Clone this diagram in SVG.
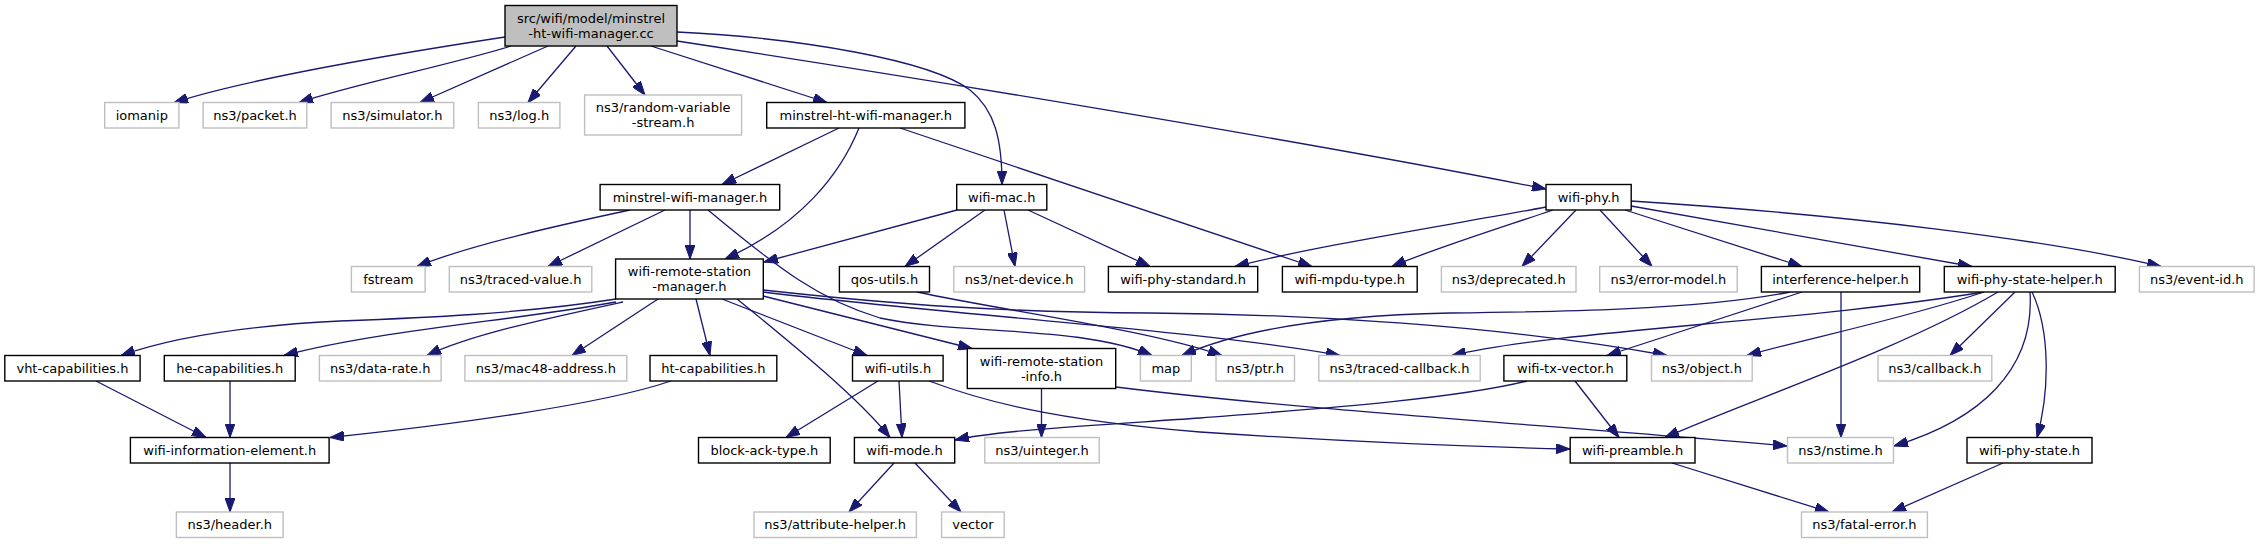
<svg xmlns="http://www.w3.org/2000/svg" width="2259" height="544" viewBox="0 0 2259 544">
<defs>
<marker id="ah" viewBox="0 0 14 10" refX="14" refY="5" markerWidth="14" markerHeight="10" markerUnits="userSpaceOnUse" orient="auto">
<path d="M0,0 L14,5 L0,10 z" fill="#191970" stroke="#191970" stroke-width="1"/>
</marker>
<style>
rect{stroke-width:1.4}
.n{fill:#fff;stroke:#000}
.x{fill:#fff;stroke:#bfbfbf}
.r{fill:#bfbfbf;stroke:#000}
text{font-family:"DejaVu Sans","Liberation Sans",sans-serif;font-size:13px;text-anchor:middle;fill:#000}
#edges path{fill:none;stroke:#191970;stroke-width:1.3;marker-end:url(#ah)}
</style>
</defs>
<rect width="2259" height="544" fill="#fff"/>
<g id="edges">
<path d="M505,37 C420,50 260,75 174,102.5"/>
<path d="M511,46 C450,65 350,85 299,102.5"/>
<path d="M548,46 L420,102.5"/>
<path d="M576,46 L528,102.5"/>
<path d="M607,46 L645,95"/>
<path d="M651,46 L827,102.5"/>
<path d="M677,32 C800,38 930,60 970,90 C995,110 1002,140 1002,184.5"/>
<path d="M677,41 C900,75 1300,140 1546,189"/>
<path d="M839,128 L722,184.5"/>
<path d="M859,128 C840,175 800,225 725,259"/>
<path d="M900,128 L1312,266.5"/>
<path d="M630,210 C560,225 470,245 417,266.5"/>
<path d="M665,210 L548,266.5"/>
<path d="M690,210 L690,259"/>
<path d="M708,210 C780,270 820,300 880,318 C960,335 1080,325 1152,355.5"/>
<path d="M957,210 L764,262"/>
<path d="M985,210 L905,266.5"/>
<path d="M1004,210 L1015,266.5"/>
<path d="M1028,210 L1150,266.5"/>
<path d="M1546,207 C1450,225 1320,245 1235,266.5"/>
<path d="M1553,210 C1500,228 1430,250 1392,266.5"/>
<path d="M1576,210 L1522,266.5"/>
<path d="M1600,210 L1652,266.5"/>
<path d="M1625,210 L1802,266.5"/>
<path d="M1631,206 L1972,266.5"/>
<path d="M1631,201 C1850,215 2050,240 2161,266.5"/>
<path d="M616,299 C520,314 420,318 340,321 C240,326 170,338 121,355.5"/>
<path d="M616,302 C520,320 380,330 284,355.5"/>
<path d="M623,302 C540,320 470,335 427,355.5"/>
<path d="M658,299 L572,355.5"/>
<path d="M696,299 L710,355.5"/>
<path d="M722,299 L867,355.5"/>
<path d="M737,299 C800,350 860,400 890,437.5"/>
<path d="M763,296 L972,348.5"/>
<path d="M763,292 C950,315 1200,330 1340,355.5"/>
<path d="M763,290 C900,305 1000,312 1150,313 C1300,314 1500,325 1667,355.5"/>
<path d="M917,292 C1000,310 1150,330 1222,355.5"/>
<path d="M1041.5,388.5 L1041.5,437.5"/>
<path d="M1116,387 C1300,410 1550,425 1787,446"/>
<path d="M878,381 L786,437.5"/>
<path d="M899,381 L902,437.5"/>
<path d="M929,381 C980,400 1050,420 1200,432 C1350,442 1480,447 1570,449"/>
<path d="M1527,381 C1450,400 1300,410 1200,418 C1100,425 1000,430 955,440"/>
<path d="M1575,381 L1619,437.5"/>
<path d="M1790,292 C1700,310 1550,312 1450,313 C1350,315 1250,325 1182,355.5"/>
<path d="M1802,292 L1607,355.5"/>
<path d="M1841,292 L1841,437.5"/>
<path d="M1984,292 C1800,322 1560,330 1452,355.5"/>
<path d="M1984,292 C1900,320 1800,340 1747,355.5"/>
<path d="M1998,292 C1900,350 1750,400 1665,437.5"/>
<path d="M2015,292 L1950,355.5"/>
<path d="M2030,292 C2035,370 1980,420 1894,446"/>
<path d="M2032,292 C2050,330 2050,390 2037,437.5"/>
<path d="M1672,463 L1829,512"/>
<path d="M2003,463 L1892,512"/>
<path d="M894,463 L849,512"/>
<path d="M915,463 L961,512"/>
<path d="M96,381 L206,437.5"/>
<path d="M230,381 L230,437.5"/>
<path d="M671,381 C600,405 450,425 330,437.5"/>
<path d="M230,463 L230,512"/>
</g>
<g id="root"><rect class="r" x="505" y="5.5" width="172" height="40.5"/><text x="591" y="22.8">src/wifi/model/minstrel</text><text x="591" y="37.8">-ht-wifi-manager.cc</text></g>
<g id="iomanip"><rect class="x" x="104.7" y="102.5" width="74.2" height="25.5"/><text x="141.8" y="119.8">iomanip</text></g>
<g id="packet"><rect class="x" x="203.1" y="102.5" width="103.7" height="25.5"/><text x="255" y="119.8">ns3/packet.h</text></g>
<g id="simulator"><rect class="x" x="331.1" y="102.5" width="122.6" height="25.5"/><text x="392.4" y="119.8">ns3/simulator.h</text></g>
<g id="log"><rect class="x" x="478.4" y="102.5" width="81.5" height="25.5"/><text x="519.2" y="119.8">ns3/log.h</text></g>
<g id="random"><rect class="x" x="584.6" y="95" width="157" height="40"/><text x="663.1" y="112.3">ns3/random-variable</text><text x="663.1" y="127.3">-stream.h</text></g>
<g id="mhtwm"><rect class="n" x="766.7" y="102.5" width="198.2" height="25.5"/><text x="865.8" y="119.8">minstrel-ht-wifi-manager.h</text></g>
<g id="mwm"><rect class="n" x="600.1" y="184.5" width="179.6" height="25.5"/><text x="689.9" y="201.8">minstrel-wifi-manager.h</text></g>
<g id="wifimac"><rect class="n" x="956.7" y="184.5" width="90.1" height="25.5"/><text x="1001.75" y="201.8">wifi-mac.h</text></g>
<g id="wifiphy"><rect class="n" x="1546" y="184.5" width="85.2" height="25.5"/><text x="1588.6" y="201.8">wifi-phy.h</text></g>
<g id="fstream"><rect class="x" x="351.4" y="266.5" width="73.7" height="25.5"/><text x="388.25" y="283.8">fstream</text></g>
<g id="tracedvalue"><rect class="x" x="449.3" y="266.5" width="142.5" height="25.5"/><text x="520.55" y="283.8">ns3/traced-value.h</text></g>
<g id="wrsm"><rect class="n" x="615.6" y="259" width="147.7" height="40"/><text x="689.45" y="276.1">wifi-remote-station</text><text x="689.45" y="291.1">-manager.h</text></g>
<g id="qos"><rect class="n" x="839.4" y="266.5" width="90.1" height="25.5"/><text x="884.45" y="283.8">qos-utils.h</text></g>
<g id="netdevice"><rect class="x" x="953.8" y="266.5" width="130.8" height="25.5"/><text x="1019.2" y="283.8">ns3/net-device.h</text></g>
<g id="wps"><rect class="n" x="1108.4" y="266.5" width="149.3" height="25.5"/><text x="1183.05" y="283.8">wifi-phy-standard.h</text></g>
<g id="mpdu"><rect class="n" x="1282.4" y="266.5" width="134.8" height="25.5"/><text x="1349.8" y="283.8">wifi-mpdu-type.h</text></g>
<g id="deprecated"><rect class="x" x="1441.4" y="266.5" width="134.6" height="25.5"/><text x="1508.7" y="283.8">ns3/deprecated.h</text></g>
<g id="errormodel"><rect class="x" x="1599.7" y="266.5" width="137.5" height="25.5"/><text x="1668.45" y="283.8">ns3/error-model.h</text></g>
<g id="interference"><rect class="n" x="1761.4" y="266.5" width="158.3" height="25.5"/><text x="1840.55" y="283.8">interference-helper.h</text></g>
<g id="wpsh"><rect class="n" x="1944.3" y="266.5" width="170.9" height="25.5"/><text x="2029.75" y="283.8">wifi-phy-state-helper.h</text></g>
<g id="eventid"><rect class="x" x="2139.4" y="266.5" width="114.7" height="25.5"/><text x="2196.75" y="283.8">ns3/event-id.h</text></g>
<g id="vht"><rect class="n" x="4.8" y="355.5" width="135.3" height="25.5"/><text x="72.45" y="372.8">vht-capabilities.h</text></g>
<g id="he"><rect class="n" x="164.3" y="355.5" width="130.9" height="25.5"/><text x="229.75" y="372.8">he-capabilities.h</text></g>
<g id="datarate"><rect class="x" x="319.4" y="355.5" width="121.7" height="25.5"/><text x="380.25" y="372.8">ns3/data-rate.h</text></g>
<g id="mac48"><rect class="x" x="464.9" y="355.5" width="161.9" height="25.5"/><text x="545.85" y="372.8">ns3/mac48-address.h</text></g>
<g id="ht"><rect class="n" x="650" y="355.5" width="126.8" height="25.5"/><text x="713.4" y="372.8">ht-capabilities.h</text></g>
<g id="wifiutils"><rect class="n" x="852.5" y="355.5" width="90.6" height="25.5"/><text x="897.8" y="372.8">wifi-utils.h</text></g>
<g id="wrsi"><rect class="n" x="967.3" y="348.5" width="148.4" height="40"/><text x="1041.5" y="365.6">wifi-remote-station</text><text x="1041.5" y="380.6">-info.h</text></g>
<g id="map"><rect class="x" x="1140.4" y="355.5" width="50.9" height="25.5"/><text x="1165.85" y="372.8">map</text></g>
<g id="ptr"><rect class="x" x="1216" y="355.5" width="78.5" height="25.5"/><text x="1255.25" y="372.8">ns3/ptr.h</text></g>
<g id="tracedcallback"><rect class="x" x="1318.8" y="355.5" width="161.4" height="25.5"/><text x="1399.5" y="372.8">ns3/traced-callback.h</text></g>
<g id="wtv"><rect class="n" x="1503.9" y="355.5" width="122.9" height="25.5"/><text x="1565.35" y="372.8">wifi-tx-vector.h</text></g>
<g id="object"><rect class="x" x="1651.5" y="355.5" width="100.7" height="25.5"/><text x="1701.85" y="372.8">ns3/object.h</text></g>
<g id="callback"><rect class="x" x="1878" y="355.5" width="113.8" height="25.5"/><text x="1934.9" y="372.8">ns3/callback.h</text></g>
<g id="wie"><rect class="n" x="130.4" y="437.5" width="198.7" height="25.5"/><text x="229.75" y="454.8">wifi-information-element.h</text></g>
<g id="blockack"><rect class="n" x="698.5" y="437.5" width="131.7" height="25.5"/><text x="764.35" y="454.8">block-ack-type.h</text></g>
<g id="wifimode"><rect class="n" x="854.4" y="437.5" width="100.3" height="25.5"/><text x="904.55" y="454.8">wifi-mode.h</text></g>
<g id="uinteger"><rect class="x" x="984.8" y="437.5" width="114.4" height="25.5"/><text x="1042" y="454.8">ns3/uinteger.h</text></g>
<g id="preamble"><rect class="n" x="1570.2" y="437.5" width="124.8" height="25.5"/><text x="1632.6" y="454.8">wifi-preamble.h</text></g>
<g id="nstime"><rect class="x" x="1787.5" y="437.5" width="106" height="25.5"/><text x="1840.5" y="454.8">ns3/nstime.h</text></g>
<g id="phystate"><rect class="n" x="1967" y="437.5" width="125" height="25.5"/><text x="2029.5" y="454.8">wifi-phy-state.h</text></g>
<g id="header"><rect class="x" x="176.4" y="512" width="106.7" height="25.5"/><text x="229.75" y="529.3">ns3/header.h</text></g>
<g id="attribute"><rect class="x" x="754" y="512" width="162.4" height="25.5"/><text x="835.2" y="529.3">ns3/attribute-helper.h</text></g>
<g id="vector"><rect class="x" x="941.6" y="512" width="62.6" height="25.5"/><text x="972.9" y="529.3">vector</text></g>
<g id="fatal"><rect class="x" x="1801.5" y="512" width="125.9" height="25.5"/><text x="1864.45" y="529.3">ns3/fatal-error.h</text></g>
</svg>
